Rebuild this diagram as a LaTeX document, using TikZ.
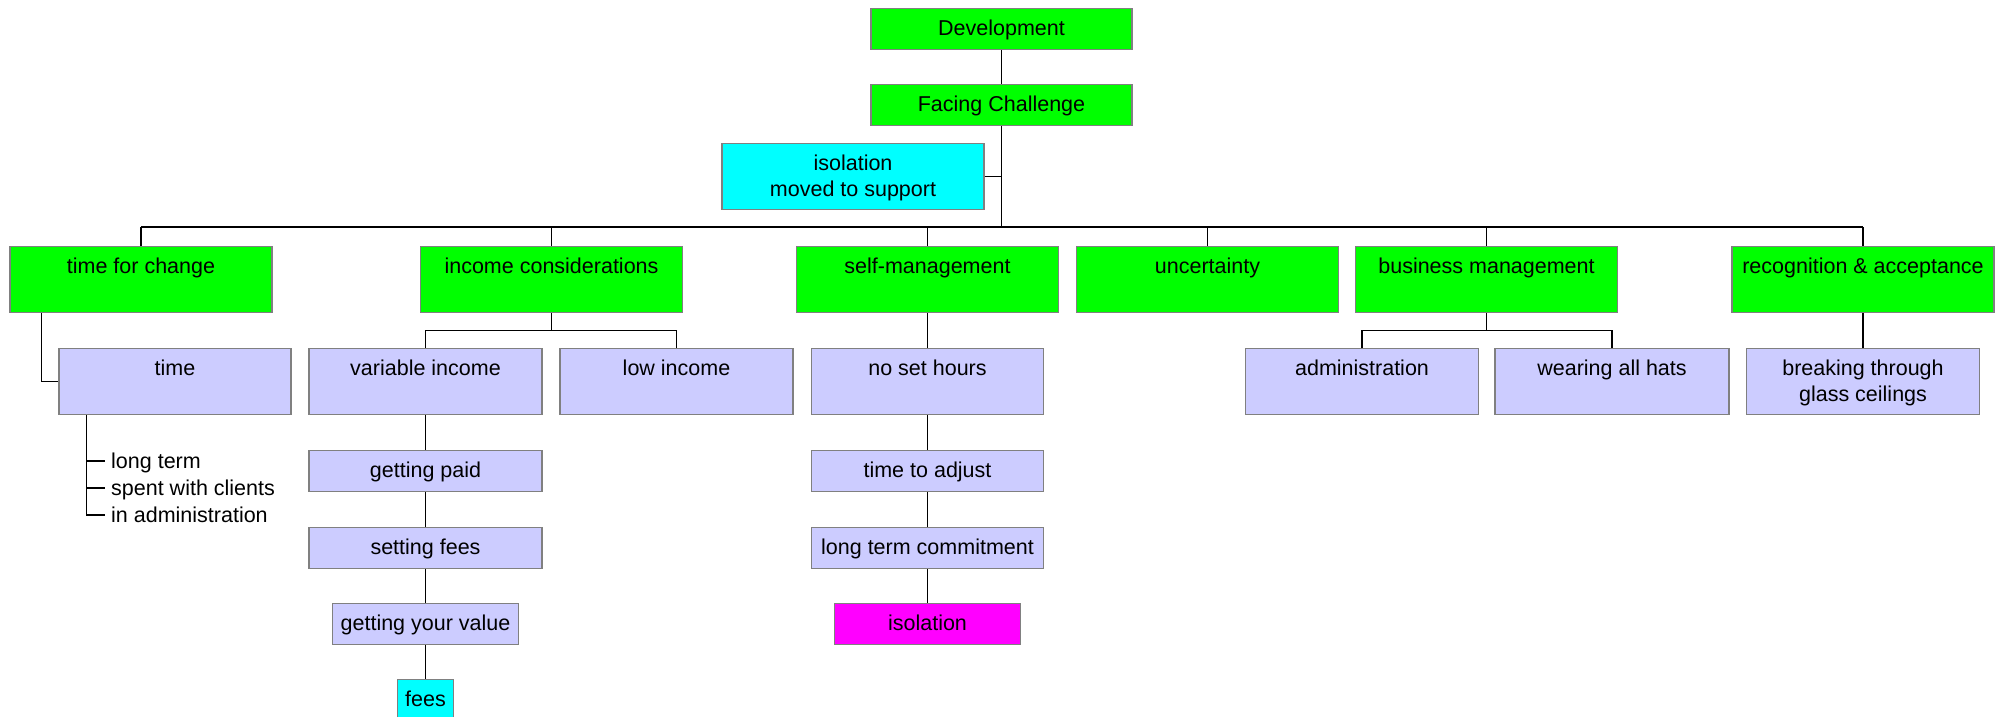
\documentclass[tikz,border=0pt]{standalone}
\usepackage{fontspec}
\setmainfont{Liberation Sans}
\definecolor{catgreen}{RGB}{0,255,0}
\definecolor{itemblue}{RGB}{204,204,255}
\definecolor{notecyan}{RGB}{0,255,255}
\definecolor{notemagenta}{RGB}{255,0,255}
\definecolor{boxframe}{RGB}{128,128,128}
\newcommand\twolines[2]{\begin{tabular}[t]{@{}c@{}}#1\\#2\end{tabular}}

\begin{document}
\begin{tikzpicture}[x=1pt,y=-1pt,
  every node/.style={font=\fontsize{21.5pt}{26pt}\selectfont},
  box/.style={draw=boxframe, line width=1.3pt, anchor=north, inner sep=0pt, text height=27pt},
  tallbox/.style={box, text depth=39pt},
  lowbox/.style={box, text depth=14pt},
  listitem/.style={anchor=base west, inner xsep=6pt, inner ysep=0pt, text height=16pt, text depth=2pt},
  link/.style={line width=1.6pt}
]
\useasboundingbox (0,0) rectangle (1999,717);
\clip (0,0) rectangle (1999,717);

% root and challenge
\node[lowbox, fill=catgreen, minimum width=261pt] (dev) at (1001.5,8) {Development};
\node[lowbox, fill=catgreen, minimum width=261pt] (face) at (1001.5,84) {Facing Challenge};
\node[tallbox, fill=notecyan, minimum width=262pt] (supp) at (853,143) {\twolines{isolation}{moved to support}};

% categories
\node[tallbox, fill=catgreen, minimum width=262pt] (tfc)   at (141,246)    {time for change};
\node[tallbox, fill=catgreen, minimum width=262pt] (inc)   at (551.5,246)  {income considerations};
\node[tallbox, fill=catgreen, minimum width=262pt] (selfm) at (927.5,246)  {self-management};
\node[tallbox, fill=catgreen, minimum width=262pt] (unc)   at (1207.5,246) {uncertainty};
\node[tallbox, fill=catgreen, minimum width=262pt] (biz)   at (1486.5,246) {business management};
\node[tallbox, fill=catgreen, minimum width=262pt] (rec)   at (1863,246)   {recognition \& acceptance};

% second level
\node[tallbox, fill=itemblue, minimum width=232pt] (time)   at (175,348)    {time};
\node[tallbox, fill=itemblue, minimum width=233pt] (varinc) at (425.5,348)  {variable income};
\node[tallbox, fill=itemblue, minimum width=233pt] (lowinc) at (676.5,348)  {low income};
\node[tallbox, fill=itemblue, minimum width=232pt] (nsh)    at (927.5,348)  {no set hours};
\node[tallbox, fill=itemblue, minimum width=233pt] (admin)  at (1362,348)   {administration};
\node[tallbox, fill=itemblue, minimum width=234pt] (hats)   at (1612,348)   {wearing all hats};
\node[tallbox, fill=itemblue, minimum width=233pt] (brk)    at (1863,348)   {\twolines{breaking through}{glass ceilings}};

% income chain
\node[lowbox, fill=itemblue, minimum width=233pt] (gp)   at (425.5,450) {getting paid};
\node[lowbox, fill=itemblue, minimum width=233pt] (sf)   at (425.5,527) {setting fees};
\node[lowbox, fill=itemblue, minimum width=186pt] (gyv)  at (425.5,603) {getting your value};
\node[lowbox, fill=notecyan, minimum width=56pt]  (fees) at (425.5,679) {fees};

% self-management chain
\node[lowbox, fill=itemblue, minimum width=232pt]    (tta)  at (927.5,450) {time to adjust};
\node[lowbox, fill=itemblue, minimum width=232pt]    (ltc)  at (927.5,527) {long term commitment};
\node[lowbox, fill=notemagenta, minimum width=186pt] (isol) at (927.5,603) {isolation};

% notes under "time"
\node[listitem] (li1) at (105,468) {long term};
\node[listitem] (li2) at (105,495) {spent with clients};
\node[listitem] (li3) at (105,522) {in administration};

% connectors
\coordinate (busline) at (0,227);
\draw[link] (dev.south) -- (face.north);
\draw[link] (face.south) -- (face.south |- busline);
\draw[link] (supp.east) -- (supp.east -| face.south);
\draw[link] (tfc.north |- busline) -- (rec.north |- busline);
\foreach \n in {tfc,inc,selfm,unc,biz,rec}
  \draw[link] (\n.north) -- (\n.north |- busline);

\draw[link] ([xshift=32pt]tfc.south west) |- (time.west);
\coordinate (listtrunk) at ([xshift=28pt]time.south west);
\draw[link] (listtrunk) |- (li3.west);
\draw[link] (li1.west -| listtrunk) -- (li1.west);
\draw[link] (li2.west -| listtrunk) -- (li2.west);

\draw[link] (inc.south) -- ++(0,17) coordinate (incbus);
\draw[link] (varinc.north) |- (incbus) -| (lowinc.north);
\draw[link] (varinc.south) -- (gp.north);
\draw[link] (gp.south) -- (sf.north);
\draw[link] (sf.south) -- (gyv.north);
\draw[link] (gyv.south) -- (fees.north);

\draw[link] (selfm.south) -- (nsh.north);
\draw[link] (nsh.south) -- (tta.north);
\draw[link] (tta.south) -- (ltc.north);
\draw[link] (ltc.south) -- (isol.north);

\draw[link] (biz.south) -- ++(0,17) coordinate (bizbus);
\draw[link] (admin.north) |- (bizbus) -| (hats.north);

\draw[link] (rec.south) -- (brk.north);
\end{tikzpicture}
\end{document}
